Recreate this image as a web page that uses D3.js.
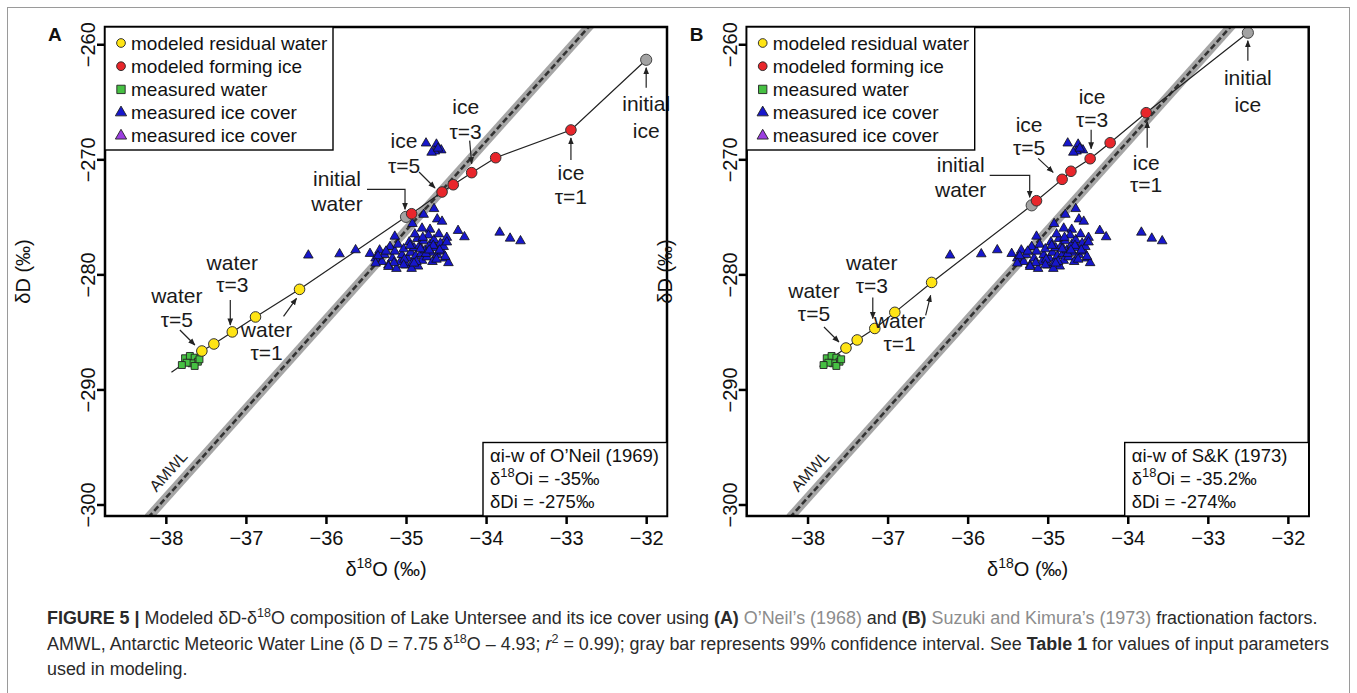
<!DOCTYPE html>
<html>
<head>
<meta charset="utf-8">
<script src="https://cdn.jsdelivr.net/npm/d3@7"></script>
<style>
  body { margin: 0; background: #fff; }
  svg { display: block; }
  text { font-family: "Liberation Sans", Arial, Helvetica, sans-serif; }
</style>
</head>
<body>
<svg id="fig" width="1357" height="693"></svg>
<script>
// ---------------- data ----------------
const xTicks = [-38, -37, -36, -35, -34, -33, -32];
const yTicks = [-300, -290, -280, -270, -260];
const xDomain = [-38.76, -31.74];
const yDomain = [-301.0, -258.5];

// AMWL: dD = 7.75 d18O - 4.93
const amwlSlope = 7.75, amwlIntercept = -4.93;
const amwlFrom = [-38.22, -31.5];

const legendLabels = ["modeled residual water", "modeled forming ice", "measured water", "measured ice cover", "measured ice cover"];

// measured (same in both panels)  [d18O, dD]
const measuredWater = [[-37.76,-287.29],[-37.70,-287.09],[-37.64,-287.24],[-37.60,-287.59],[-37.68,-287.73],
  [-37.74,-287.68],[-37.80,-287.88],[-37.64,-287.96],[-37.58,-287.38]];

const measuredIce = [
  [-34.75,-268.6],[-34.62,-268.7],[-34.56,-269.2],[-34.64,-269.3],[-34.68,-269.4],[-34.60,-269.05],
  [-34.65,-274.3],[-34.78,-274.8],[-34.92,-275.6],[-34.61,-275.2],[-34.55,-275.4],[-34.80,-276.0],[-34.70,-276.1],
  [-34.35,-276.2],[-34.27,-276.75],[-34.49,-276.8],[-35.14,-276.7],
  [-33.83,-276.35],[-33.70,-276.87],[-33.57,-277.1],
  [-36.22,-278.34],[-35.83,-278.23],[-35.63,-277.88],
  [-35.45,-278.2],[-35.38,-278.6],[-35.33,-277.9],[-35.30,-278.9],[-35.27,-278.3],[-35.22,-279.2],[-35.20,-277.6],
  [-35.17,-278.6],[-35.14,-278.0],[-35.12,-279.5],[-35.10,-277.4],[-35.07,-278.9],[-35.05,-278.3],[-35.03,-277.8],
  [-35.00,-279.2],[-34.98,-278.6],[-34.96,-277.2],[-34.94,-278.1],[-34.92,-279.0],[-34.90,-277.7],[-34.88,-278.4],
  [-34.86,-276.9],[-34.85,-279.3],[-34.83,-277.5],[-34.81,-278.2],[-34.80,-278.8],[-34.78,-277.1],[-34.76,-277.9],
  [-34.74,-278.5],[-34.72,-276.6],[-34.70,-277.4],[-34.69,-278.1],[-34.67,-278.9],[-34.65,-277.0],[-34.63,-277.7],
  [-34.61,-278.3],[-34.59,-276.5],[-34.57,-277.3],[-34.55,-278.0],[-34.53,-277.6],[-34.51,-278.6],[-34.49,-277.2],
  [-34.47,-279.0],[-34.95,-277.5],[-35.02,-278.7],[-34.87,-278.9],[-34.75,-278.2],[-34.66,-277.5],[-35.25,-278.0],
  [-35.35,-278.4],[-34.89,-276.5],[-34.79,-276.8],[-34.58,-277.9],[-34.82,-277.8],[-34.71,-277.9],[-35.15,-279.0],
  [-34.93,-279.5],[-34.62,-278.7],
  [-35.38,-279.04],[-35.22,-279.33],[-35.03,-279.19],[-34.90,-279.04],[-34.51,-278.46]
];

// panel A : O'Neil (1969)
const residualA = [[-36.33,-281.3],[-36.88,-283.7],[-37.17,-285.0],[-37.40,-286.05],[-37.55,-286.66]];
const iceA = [[-32.94,-267.45],[-33.88,-269.86],[-34.18,-271.16],[-34.41,-272.21],[-34.55,-272.84],[-34.93,-274.73]];
const initWaterA = [-35.0, -275.0];
const initIceA = [-32.0, -261.35];
const tailA = [-37.93, -288.5];
const boxTextA = ["O’Neil (1969)", "-35‰", "-275‰"];

// panel B : Suzuoki & Kimura (1973)
const residualB = [[-36.45,-280.7],[-36.91,-283.3],[-37.16,-284.7],[-37.38,-285.7],[-37.52,-286.4]];
const iceB = [[-33.77,-265.95],[-34.22,-268.56],[-34.47,-269.95],[-34.71,-271.04],[-34.82,-271.74],[-35.14,-273.6]];
const initWaterB = [-35.2, -274.0];
const initIceB = [-32.5, -259.0];
const tailB = [-37.85, -288.0];
const boxTextB = ["S&K (1973)", "-35.2‰", "-274‰"];

// ---------------- layout ----------------
const FONT = '"Liberation Sans", Arial, Helvetica, sans-serif';
const plotTop = 27, W = 562, H = 489;
const col = {
  yellow: "#ffe414", red: "#e8262b", green: "#46c043", blue: "#1717cc", purple: "#9b3ee0", gray: "#a3a3a3"
};

const notesA = [
  {ref:"initIce", lines:["initial","ice"], dx:0, dy:[51,78], arrow:[[0,28],[0,8]]},
  {ref:"ice", i:0, lines:["ice","τ=1"], dx:0, dy:[50,74], arrow:[[0,30],[0,8]]},
  {ref:"ice", i:2, lines:["ice","τ=3"], dx:-6, dy:[-59,-34], arrow:[[-2,-32],[0,-9]]},
  {ref:"ice", i:4, lines:["ice","τ=5"], dx:-38, dy:[-44,-19], arrow:[[-23,-20],[-7,-4]]},
  {ref:"initWater", lines:["initial","water"], dx:-69, dy:[-31,-6], arrow:[[-39,-27.5],[-1,-27.5],[-1,-7.5]]},
  {ref:"residual", i:2, lines:["water","τ=3"], dx:0, dy:[-62,-40], arrow:[[-2,-32],[-2,-7]]},
  {ref:"residual", i:4, lines:["water","τ=5"], dx:-25, dy:[-48,-24], arrow:[[-22,-21],[-7,-6]]},
  {ref:"residual", i:0, lines:["water","τ=1"], dx:-33, dy:[48,71], arrow:[[-16,27],[-3,9]]}
];
const notesB = [
  {ref:"initIce", lines:["initial","ice"], dx:0, dy:[52,79], arrow:[[0,28],[0,8]]},
  {ref:"ice", i:0, lines:["ice","τ=1"], dx:0, dy:[57,79], arrow:[[1,35],[1,9]]},
  {ref:"ice", i:2, lines:["ice","τ=3"], dx:2, dy:[-55,-32], arrow:[[1,-29],[1,-10]]},
  {ref:"ice", i:4, lines:["ice","τ=5"], dx:-33, dy:[-47,-24], arrow:[[-24,-21],[-9,-7]]},
  {ref:"initWater", lines:["initial","water"], dx:-71, dy:[-33,-8], arrow:[[-42,-30],[-2,-30],[-2,-8]]},
  {ref:"residual", i:2, lines:["water","τ=3"], dx:-3, dy:[-58,-35], arrow:[[-2,-31],[-2,-10]]},
  {ref:"residual", i:4, lines:["water","τ=5"], dx:-32, dy:[-50,-27], arrow:[[-22,-21],[-7,-6]]},
  {ref:"residual", i:0, lines:["water","τ=1"], dx:-32, dy:[46,69], arrow:[[-6,33],[-1,13]]}
];

const panels = [
  {letter:"A", left:105, residual:residualA, ice:iceA, initWater:initWaterA, initIce:initIceA, tail:tailA, box:boxTextA, notes:notesA},
  {letter:"B", left:746.7, residual:residualB, ice:iceB, initWater:initWaterB, initIce:initIceB, tail:tailB, box:boxTextB, notes:notesB}
];

const svg = d3.select("#fig");
const defs = svg.append("defs");
defs.append("marker").attr("id","arr")
  .attr("viewBox","0 0 10 10").attr("refX",9).attr("refY",5)
  .attr("markerWidth",6).attr("markerHeight",6).attr("orient","auto")
  .append("path").attr("d","M0,1 L10,5 L0,9 z").attr("fill","#222");

// outer frame
svg.append("rect").attr("x",7.5).attr("y",7.5).attr("width",1342).attr("height",700)
  .attr("fill","none").attr("stroke","#9a9a9a").attr("stroke-width",1);

// rich text helper (segments with bold / sup / italic / colour)
function rich(sel, segs, size) {
  let shift = 0;
  segs.forEach(s => {
    const t = sel.append("tspan").text(s.t).style("font-size", (s.sup ? size*0.7 : size) + "px");
    const target = s.sup ? -0.38*size : 0;
    if (target !== shift) { t.attr("dy", target - shift); shift = target; }
    if (s.b) t.style("font-weight","bold");
    if (s.i) t.style("font-style","italic");
    if (s.c) t.attr("fill", s.c);
  });
}

function symbolPath(type, size) {
  return d3.symbol().type(type).size(size)();
}

panels.forEach((p, pi) => {
  const x = d3.scaleLinear().domain(xDomain).range([0, W]);
  const y = d3.scaleLinear().domain(yDomain).range([H, 0]);
  const g = svg.append("g").attr("transform", `translate(${p.left},${plotTop})`);

  const clipId = "clip" + pi;
  defs.append("clipPath").attr("id", clipId).append("rect").attr("width", W).attr("height", H);

  // panel letter
  svg.append("text").attr("x", p.left - 57).attr("y", 41)
    .style("font-size","19px").style("font-weight","bold").attr("fill","#111").text(p.letter);

  // axes
  const gx = g.append("g").attr("transform", `translate(0,${H})`)
    .call(d3.axisBottom(x).tickValues(xTicks).tickSize(8).tickPadding(7).tickFormat(d3.format("d")));
  gx.select(".domain").remove();
  gx.selectAll("line").attr("stroke","#000").attr("stroke-width",2.5);
  gx.selectAll("text").attr("font-size",20).attr("font-family",FONT).attr("fill","#111");

  const gy = g.append("g")
    .call(d3.axisLeft(y).tickValues(yTicks).tickSize(8).tickFormat(d3.format("d")));
  gy.select(".domain").remove();
  gy.selectAll("line").attr("stroke","#000").attr("stroke-width",2.5);
  gy.selectAll("text").attr("font-size",20).attr("font-family",FONT).attr("fill","#111")
    .attr("x",0).attr("y",-10).attr("dy",0).attr("text-anchor","middle").attr("transform","rotate(-90)");

  // axis titles
  const xt = g.append("text").attr("x", W/2).attr("y", H + 60).attr("text-anchor","middle").attr("fill","#111");
  rich(xt, [{t:"δ"},{t:"18",sup:1},{t:"O (‰)"}], 20);
  g.append("text").attr("transform", `translate(${-75},${H/2}) rotate(-90)`)
    .attr("text-anchor","middle").style("font-size","20px").attr("fill","#111").text("δD (‰)");

  const plot = g.append("g").attr("clip-path", `url(#${clipId})`);

  // AMWL band + dashed line
  const amwlPts = amwlFrom.map(v => [v, amwlSlope*v + amwlIntercept]);
  const line = d3.line().x(d => x(d[0])).y(d => y(d[1]));
  plot.append("path").attr("d", line(amwlPts)).attr("stroke","#a6a6a6").attr("stroke-width",9).attr("fill","none");
  plot.append("path").attr("d", line(amwlPts)).attr("stroke","#333").attr("stroke-width",2.6)
    .attr("stroke-dasharray","6,3").attr("fill","none");

  // AMWL label
  const a0 = [-37.82, amwlSlope*-37.82 + amwlIntercept];
  const a1 = [-37.0, amwlSlope*-37.0 + amwlIntercept];
  const ang = Math.atan2(y(a1[1]) - y(a0[1]), x(a1[0]) - x(a0[0]));
  const nx = Math.sin(ang), ny = -Math.cos(ang);
  g.append("text")
    .attr("transform", `translate(${x(a0[0]) + 16*nx},${y(a0[1]) + 16*ny}) rotate(${ang*180/Math.PI})`)
    .attr("text-anchor","middle").attr("dy","0.35em").style("font-size","16px").attr("fill","#222").text("AMWL");

  // modeled path line
  const path = [p.tail, ...p.residual, p.initWater, ...p.ice, p.initIce].slice().sort((a, b) => a[0] - b[0]);
  plot.append("path").attr("d", line(path)).attr("stroke","#222").attr("stroke-width",1.2).attr("fill","none");

  // measured ice cover
  plot.selectAll(".tri").data(measuredIce).enter().append("path").attr("class","tri")
    .attr("d", symbolPath(d3.symbolTriangle, 40))
    .attr("transform", d => `translate(${x(d[0])},${y(d[1])})`)
    .attr("fill", col.blue).attr("stroke","#111").attr("stroke-width",0.8);

  // measured water
  plot.selectAll(".sq").data(measuredWater).enter().append("path").attr("class","sq")
    .attr("d", symbolPath(d3.symbolSquare, 48))
    .attr("transform", d => `translate(${x(d[0])},${y(d[1])})`)
    .attr("fill", col.green).attr("stroke","#222").attr("stroke-width",0.9);

  // initial points, residual water, forming ice
  plot.selectAll(".ini").data([p.initWater, p.initIce]).enter().append("circle").attr("class","ini")
    .attr("cx", d => x(d[0])).attr("cy", d => y(d[1])).attr("r", 5.6)
    .attr("fill", col.gray).attr("stroke","#444").attr("stroke-width",1);
  plot.selectAll(".res").data(p.residual).enter().append("circle").attr("class","res")
    .attr("cx", d => x(d[0])).attr("cy", d => y(d[1])).attr("r", 5.3)
    .attr("fill", col.yellow).attr("stroke","#333").attr("stroke-width",1);
  plot.selectAll(".ice").data(p.ice).enter().append("circle").attr("class","ice")
    .attr("cx", d => x(d[0])).attr("cy", d => y(d[1])).attr("r", 5.3)
    .attr("fill", col.red).attr("stroke","#333").attr("stroke-width",1);

  // annotations
  p.notes.forEach(n => {
    const pt = n.ref === "initIce" ? p.initIce : n.ref === "initWater" ? p.initWater : p[n.ref][n.i];
    const cx = x(pt[0]), cy = y(pt[1]);
    n.lines.forEach((s, k) => {
      g.append("text").attr("x", cx + n.dx).attr("y", cy + n.dy[k]).attr("text-anchor","middle")
        .style("font-size","21px").attr("fill","#1a1a1a").text(s);
    });
    g.append("path").attr("d", d3.line()(n.arrow.map(a => [cx + a[0], cy + a[1]])))
      .attr("fill","none").attr("stroke","#222").attr("stroke-width",1.2).attr("marker-end","url(#arr)");
  });

  // plot frame
  g.append("rect").attr("width", W).attr("height", H).attr("fill","none").attr("stroke","#000").attr("stroke-width",2.5);

  // legend
  const lg = g.append("g");
  lg.append("rect").attr("x",0).attr("y",0).attr("width",228).attr("height",123)
    .attr("fill","#fff").attr("stroke","#000").attr("stroke-width",1.4);
  const legSym = [
    {t:d3.symbolCircle, s:60, c:col.yellow},
    {t:d3.symbolCircle, s:60, c:col.red},
    {t:d3.symbolSquare, s:70, c:col.green},
    {t:d3.symbolTriangle, s:55, c:col.blue},
    {t:d3.symbolTriangle, s:55, c:col.purple}
  ];
  const li = lg.selectAll(".li").data(legendLabels).enter().append("g").attr("class","li")
    .attr("transform", (d, i) => `translate(16,${16 + i*23.2})`);
  li.append("path").attr("d", (d, i) => symbolPath(legSym[i].t, legSym[i].s))
    .attr("fill", (d, i) => legSym[i].c).attr("stroke","#222").attr("stroke-width",0.9);
  li.append("text").attr("x", 10).attr("dy","0.35em").style("font-size","19px").attr("fill","#111").text(d => d);

  // parameter box
  const bx = g.append("g").attr("transform", `translate(${W - 184},${H - 73.5})`);
  bx.append("rect").attr("width",184).attr("height",73.5).attr("fill","#fff").attr("stroke","#000").attr("stroke-width",1.4);
  const t1 = bx.append("text").attr("x",7).attr("y",19).attr("fill","#111");
  rich(t1, [{t:"α"},{t:"i-w of " + p.box[0]}], 18.5);
  const t2 = bx.append("text").attr("x",7).attr("y",42).attr("fill","#111");
  rich(t2, [{t:"δ"},{t:"18",sup:1},{t:"Oi = " + p.box[1]}], 18.5);
  const t3 = bx.append("text").attr("x",7).attr("y",65).attr("fill","#111");
  rich(t3, [{t:"δDi = " + p.box[2]}], 18.5);
});

// caption
const grayLink = "#8c8c8c";
const capLines = [
  [{t:"FIGURE 5 |",b:1},{t:" Modeled δD-δ"},{t:"18",sup:1},{t:"O composition of Lake Untersee and its ice cover using "},{t:"(A)",b:1},{t:" "},
   {t:"O’Neil’s (1968)",c:grayLink},{t:" and "},{t:"(B)",b:1},{t:" "},{t:"Suzuki and Kimura’s (1973)",c:grayLink},{t:" fractionation factors."}],
  [{t:"AMWL, Antarctic Meteoric Water Line (δ D = 7.75 δ"},{t:"18",sup:1},{t:"O – 4.93; "},{t:"r",i:1},{t:"2",sup:1},
   {t:" = 0.99); gray bar represents 99% confidence interval. See "},{t:"Table 1",b:1},{t:" for values of input parameters"}],
  [{t:"used in modeling."}]
];
const capY = [624, 650, 675];
const probe = svg.append("text").attr("x",47).attr("y",capY[0]);
rich(probe, capLines[0], 16);
const capSize = 16 * 1271 / probe.node().getBBox().width;
probe.remove();
capLines.forEach((segs, i) => {
  const t = svg.append("text").attr("x",47).attr("y",capY[i]).attr("fill","#2a2a2a");
  rich(t, segs, capSize);
});
</script>
</body>
</html>
